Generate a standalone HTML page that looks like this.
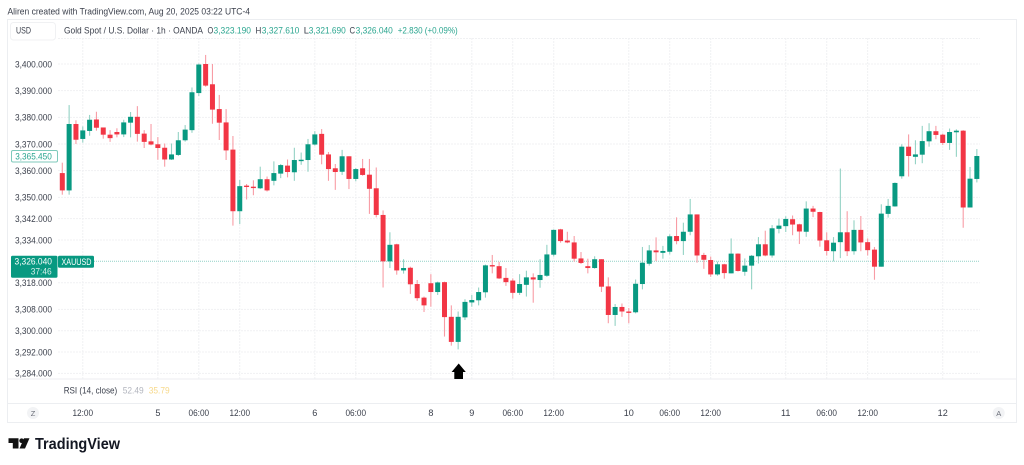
<!DOCTYPE html>
<html lang="en">
<head>
<meta charset="utf-8">
<title>Gold Spot / U.S. Dollar chart</title>
<style>
html,body{margin:0;padding:0;background:#fff;width:1024px;height:465px;overflow:hidden}
svg{display:block;font-family:"Liberation Sans",sans-serif;filter:blur(0.3px)}
text{fill:#131722}
</style>
</head>
<body>
<svg id="chart" width="1024" height="465" viewBox="0 0 1024 465">
  <text x="7.5" y="14.3" font-size="9.6" style="fill:#3a3f4b" textLength="242.5" lengthAdjust="spacingAndGlyphs">Aliren created with TradingView.com, Aug 20, 2025 03:22 UTC-4</text>
  <rect x="7.5" y="19.5" width="1009" height="403" fill="none" stroke="#eceef1"/>
  <g id="grid"></g>
  <line x1="7.5" y1="379" x2="1016.5" y2="379" stroke="#eceef1"/>
  <line x1="7.5" y1="403.5" x2="1016.5" y2="403.5" stroke="#eceef1"/>
  <rect x="10.5" y="22.5" width="45" height="17.5" rx="3" fill="#fff" stroke="#f0f1f3"/>
  <text x="16" y="33.7" font-size="8.8" style="fill:#3a3f4b" textLength="15" lengthAdjust="spacingAndGlyphs">USD</text>
  <g id="legend" font-size="9.3">
    <text x="64" y="33.5" style="fill:#3a3f4b" textLength="139" lengthAdjust="spacingAndGlyphs">Gold Spot / U.S. Dollar · 1h · OANDA</text>
    <text x="207.5" y="33.5" style="fill:#3a3f4b" textLength="5.8" lengthAdjust="spacingAndGlyphs">O</text>
    <text x="213.5" y="33.5" style="fill:#2aa58f" textLength="37.5" lengthAdjust="spacingAndGlyphs">3,323.190</text>
    <text x="255.5" y="33.5" style="fill:#3a3f4b" textLength="5.8" lengthAdjust="spacingAndGlyphs">H</text>
    <text x="261.8" y="33.5" style="fill:#2aa58f" textLength="37.5" lengthAdjust="spacingAndGlyphs">3,327.610</text>
    <text x="303.8" y="33.5" style="fill:#3a3f4b">L</text>
    <text x="308.8" y="33.5" style="fill:#2aa58f" textLength="37" lengthAdjust="spacingAndGlyphs">3,321.690</text>
    <text x="349.5" y="33.5" style="fill:#3a3f4b" textLength="5.6" lengthAdjust="spacingAndGlyphs">C</text>
    <text x="355.6" y="33.5" style="fill:#2aa58f" textLength="37.2" lengthAdjust="spacingAndGlyphs">3,326.040</text>
    <text x="397.7" y="33.5" style="fill:#2aa58f" textLength="60" lengthAdjust="spacingAndGlyphs">+2.830 (+0.09%)</text>
  </g>
  <g id="priceAxis"></g>
  <line id="lastLine" x1="94" x2="980" stroke="#089981" stroke-opacity="0.45" stroke-width="1" stroke-dasharray="1 1"/>
  <g id="candles"></g>
  <rect x="11.5" y="150.5" width="46" height="11.5" rx="1.5" fill="#fff" stroke="#7fcabb"/>
  <text x="15.2" y="159.5" font-size="9.3" style="fill:#2aa58f" textLength="36.6" lengthAdjust="spacingAndGlyphs">3,365.450</text>
  <rect x="11" y="255.7" width="46.5" height="22" rx="1.5" fill="#089981"/>
  <text x="14.5" y="264.6" font-size="9.3" style="fill:#fff" textLength="37.5" lengthAdjust="spacingAndGlyphs">3,326.040</text>
  <text x="30.7" y="274.6" font-size="9.3" style="fill:#d5efe9" textLength="21" lengthAdjust="spacingAndGlyphs">37:46</text>
  <rect x="58" y="255.7" width="36" height="12" rx="1.5" fill="#089981"/>
  <text x="61.5" y="265" font-size="9" style="fill:#fff" textLength="30" lengthAdjust="spacingAndGlyphs">XAUUSD</text>
  <polygon points="458.7,363.5 465.8,372 463,372 463,379 454.3,379 454.3,372 451.6,372" fill="#000"/>
  <text x="63.7" y="393.6" font-size="9.3" style="fill:#3a3f4b" textLength="53.5" lengthAdjust="spacingAndGlyphs">RSI (14, close)</text>
  <text x="122.7" y="393.6" font-size="9.3" style="fill:#b2b5be" textLength="21" lengthAdjust="spacingAndGlyphs">52.49</text>
  <text x="148.7" y="393.6" font-size="9.3" style="fill:#f7d98b" textLength="21" lengthAdjust="spacingAndGlyphs">35.79</text>
  <g id="timeAxis"></g>
  <circle cx="33" cy="413" r="6" fill="#f2f3f5"/>
  <text x="33" y="416" text-anchor="middle" font-size="7.5" style="fill:#6a6d78">Z</text>
  <circle cx="998.7" cy="413" r="6" fill="#f2f3f5"/>
  <text x="998.7" y="416" text-anchor="middle" font-size="7.5" style="fill:#6a6d78">A</text>
  <g>
    <path d="M8.5 438.3H18.5V448.5H12.8V443H8.5Z" fill="#111"/>
    <circle cx="21.6" cy="440.7" r="2.3" fill="#111"/>
    <polygon points="29.5,438.3 25,448.5 19.5,448.5 24,438.3" fill="#111"/>
    <text x="35" y="449" font-size="15.4" font-weight="700" style="fill:#131722" textLength="85" lengthAdjust="spacingAndGlyphs">TradingView</text>
  </g>
</svg>
<script>
const opens=[3359.1,3352.6,3377.5,3371.9,3374.9,3379.2,3376.2,3373.5,3374.5,3373.6,3378,3380.2,3373.9,3371,3369.9,3368.6,3364.2,3365.9,3371.4,3375.2,3389.1,3400,3392.4,3383.1,3378.1,3367.9,3344.8,3354.4,3354,3353.4,3356.8,3356.2,3358.9,3361.9,3359.4,3363.8,3364,3369.8,3373.8,3366.1,3360.9,
3359.6,3365.4,3356.9,3360.9,3358.5,3353.4,3343.4,3326,3332.4,3322.6,3323.6,3317.5,3312.4,3317.8,3314.5,3318.2,3305.2,3295.8,3305,3310.6,3311.4,3314.4,3324.6,3324.2,3319.8,3318.8,3314.2,3317.2,3320,3319,3320.6,3328.5,3338,3333.8,3333.1,3327.1,3324.2,3323.5,3326.8,3316.6,3305.9,3308.9,3307.2,3306.9,3317.5,3325.1,3330.1,3329.2,3329.6,3335.5,
3333.6,3337.1,3343.6,3328.4,3326.5,3321.1,3324.9,3321.5,3328.9,3322.1,3324.4,3327.9,3332.4,3328.2,3338.2,3339.2,3341.8,3339.9,3337.1,3345.8,3344.5,3333.9,3329.8,3333.2,3336.9,3329.8,3337.8,3333.2,3330.4,3324,3343.8,3346.6,3357.9,3369,3365.2,3366,3371,3374.8,3373.5,3370.4,3374.4,3375,3346.2,3356.9];
const highs=[3363,3384.6,3378.9,3376.6,3380.9,3382.1,3376.2,3375.2,3375.9,3379.1,3382,3384.2,3375.2,3377.5,3372.6,3370.2,3370.2,3374.5,3377.1,3391.2,3400.2,3403.4,3400,3388.4,3383.1,3373,3356.5,3355,3356.4,3361.5,3357.8,3363.5,3362.5,3364.2,3368.6,3366.8,3371.9,3374.8,3375.6,3367,3362.5,
3367.8,3365.4,3361,3364.4,3364.4,3361.2,3345.1,3336.9,3332.6,3326.8,3324,3319,3312.8,3321.2,3318.4,3318.4,3309.5,3307.2,3311.8,3313.4,3316.2,3324.8,3328.4,3325.8,3323.5,3319.6,3321.2,3322.5,3321.5,3326.8,3332.2,3338,3338.2,3337.1,3335.5,3329.5,3327,3327.9,3326.8,3320,3310,3310.2,3308.5,3319.2,3331.4,3332.1,3335,3331.8,3336.1,3342.5,
3340.5,3349.4,3343.6,3329.2,3327.8,3325.9,3325.1,3334.6,3329,3327.1,3328.4,3335.1,3337.5,3339.6,3342,3342.9,3343.2,3340.1,3348.5,3346.8,3344.6,3336.9,3335.1,3360.8,3344.8,3341.4,3343,3334.6,3331.4,3347.4,3349.4,3355.6,3369.9,3373.6,3371.4,3376.8,3377.8,3376.8,3373.9,3375.8,3375.5,3375.2,3361.4,3368.1];
const lows=[3351,3351,3370,3370.5,3373.1,3375,3372,3370.8,3372.5,3372.6,3372.5,3370.9,3368.5,3369.5,3364.1,3361.5,3364,3365.5,3370.9,3374.2,3388,3391.5,3377.6,3371.5,3364,3339.4,3340,3349.2,3350.8,3353.1,3352.2,3354.5,3357.2,3357.5,3356.2,3362.2,3359.6,3369.4,3362.4,3356.2,3352.8,
3358.4,3353.1,3356,3358.1,3343.8,3342.5,3316.2,3323.5,3321,3321.4,3313.8,3311.2,3307,3309,3313.4,3297.8,3294.4,3293,3304,3309,3309.5,3312.4,3321.5,3319.4,3316.8,3312,3313.4,3312.8,3310.5,3316.1,3320.2,3327.8,3333,3332.8,3325.9,3325,3321.5,3323.2,3314.5,3302.8,3301.8,3305.2,3302.8,3306.5,3315.5,3324.4,3326.1,3327,3328.6,3332.4,
3328.4,3335.8,3325.5,3323.2,3320.2,3320.6,3319.5,3321.5,3322.2,3320.6,3315.5,3325.2,3327.9,3327.4,3336.5,3337,3335.8,3332.5,3335.2,3342.6,3331.5,3328.2,3326,3327.2,3328,3328.5,3329.8,3328.2,3319.1,3324,3342.4,3346.5,3357,3357.8,3362.4,3362.8,3369,3371.8,3369.6,3367.8,3365.2,3338.6,3346.2,3355.6];
const closes=[3352.6,3377.5,3371.6,3375.1,3379.1,3376.1,3373.5,3372.2,3373.6,3378.1,3380.2,3373.8,3370.8,3369.8,3368.5,3364.2,3366.1,3371.4,3375.4,3389.4,3399.8,3391.9,3382.9,3378,3367.6,3344.8,3354.2,3354.1,3353.5,3356.8,3352.6,3359.1,3362.1,3359.5,3364,3364.1,3369.9,3373.6,3366,3360.6,3359.5,
3365.4,3356.9,3360.6,3358.4,3353.2,3343.4,3326,3332.2,3322.6,3323.5,3317.4,3312.2,3309.5,3314.5,3318.1,3305.1,3295.8,3305.2,3310.8,3311.5,3314.5,3324.5,3324.4,3319.6,3318.2,3314.2,3317.5,3320,3319.2,3320.9,3328.6,3337.8,3333.6,3333.1,3327,3325.4,3323.5,3326.8,3316.5,3305.9,3308.9,3307.2,3307,3317.6,3325.5,3330.1,3329.4,3329.9,3335.4,3333.6,
3337.1,3343.6,3328.2,3326.6,3321.1,3324.9,3321.6,3328.9,3322.4,3324.4,3328.1,3332.4,3328.2,3338.4,3339.4,3341.9,3339.8,3337.2,3345.8,3344.6,3333.8,3329.9,3333,3336.9,3329.8,3337.8,3333.1,3330.2,3324,3343.9,3346.8,3355.4,3369,3365.5,3366.1,3371.1,3374.8,3373.4,3370.4,3374.5,3375,3346.2,3357,3365.5];
const priceTicks=[3400,3390,3380,3370,3360,3350,3342,3334,3318,3308,3300,3292,3284];
const priceTickLabels=["3,400.000","3,390.000","3,380.000","3,370.000","3,360.000","3,350.000","3,342.000","3,334.000","3,318.000","3,308.000","3,300.000","3,292.000","3,284.000"];
const timeTickBars=[3,14,20,26,37,43,54,60,66,72,83,89,95,106,112,118,129];
const timeTickLabels=["12:00","5","06:00","12:00","6","06:00","8","9","06:00","12:00","10","06:00","12:00","11","06:00","12:00","12"];
const lastPrice=3326.04;

const NS='http://www.w3.org/2000/svg';
function xScale(i){return 62.3+6.825*i;}
function yScale(v){return 64+(3400-v)*2.667;}
function mk(tag,attrs,parent){
  const el=document.createElementNS(NS,tag);
  for(const k in attrs){el.setAttribute(k,attrs[k]);}
  parent.appendChild(el);
  return el;
}
const gridG=document.getElementById('grid');
const priceG=document.getElementById('priceAxis');
const timeG=document.getElementById('timeAxis');
const candleG=document.getElementById('candles');

const topLine=mk('line',{x1:58,x2:980,y1:38.5,y2:38.5,stroke:'#f0f1f3','stroke-dasharray':'2 1'},gridG);



priceTicks.forEach(function(v,i){
  const y=yScale(v);
  const gl=mk('line',{x1:58,x2:980,y1:y,y2:y,stroke:'#f0f1f3','stroke-dasharray':'2 1'},gridG);
  
  
  const t=mk('text',{x:15,y:y+3.3,'font-size':9.3,textLength:37,lengthAdjust:'spacingAndGlyphs',style:'fill:#3a3f4b'},priceG);
  t.textContent=priceTickLabels[i];
  
  
});
timeTickBars.forEach(function(b,i){
  const x=xScale(b);
  const gl=mk('line',{x1:x,x2:x,y1:38,y2:379,stroke:'#f0f1f3','stroke-dasharray':'2 1'},gridG);
  
  
  const label=timeTickLabels[i];
  const attrs={x:x,y:416,'text-anchor':'middle','font-size':9.1,style:'fill:#3a3f4b'};
  if(label.length===5){attrs.textLength=20.6;attrs.lengthAdjust='spacingAndGlyphs';}
  const t=mk('text',attrs,timeG);
  t.textContent=label;
  
  
});

const lastLine=document.getElementById('lastLine');
lastLine.setAttribute('y1',yScale(lastPrice));
lastLine.setAttribute('y2',yScale(lastPrice));

opens.forEach(function(o,i){
  const c=closes[i];
  const up=c>=o;
  const x=xScale(i);
  const wick=mk('line',{x1:x,x2:x,y1:yScale(highs[i]),y2:yScale(lows[i]),stroke:up?'#93d2c4':'#f89ca5','stroke-width':1.1},candleG);
  
  
  const top=yScale(Math.max(o,c));
  const h=Math.max(1.4,Math.abs(yScale(o)-yScale(c)));
  const body=mk('rect',{x:x-2.5,y:top,width:5,height:h,fill:up?'#089981':'#f23645'},candleG);
  
  
});
</script>
</body>
</html>
